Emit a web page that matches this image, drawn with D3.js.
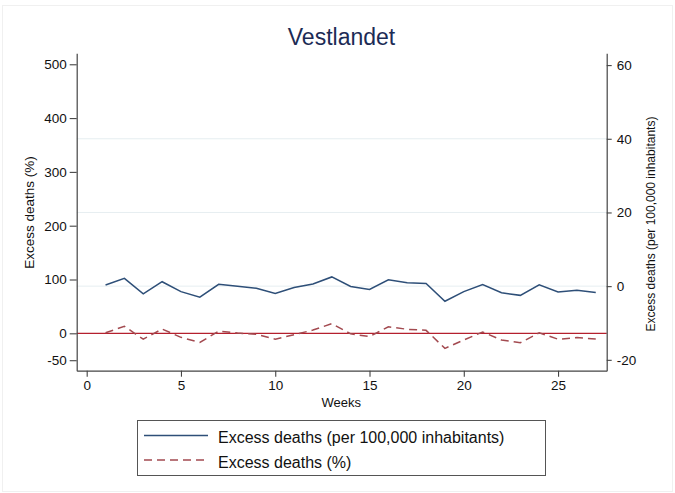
<!DOCTYPE html>
<html>
<head>
<meta charset="utf-8">
<script src="https://cdn.jsdelivr.net/npm/d3@7"></script>
<style>
  html, body { margin: 0; padding: 0; background: #fff; }
  svg text { font-family: "Liberation Sans", Arial, Helvetica, sans-serif; }
</style>
</head>
<body>
<svg id="chart" width="675" height="493"></svg>
<script>
// ---- data ----
const weeks = [1,2,3,4,5,6,7,8,9,10,11,12,13,14,15,16,17,18,19,20,21,22,23,24,25,26,27];
const per100k = [0.3,2.1,-2.1,1.2,-1.5,-3.0,0.5,0.0,-0.6,-2.0,-0.35,0.6,2.5,-0.1,-0.9,1.7,0.9,0.7,-4.1,-1.5,0.45,-1.8,-2.5,0.35,-1.6,-1.1,-1.7];
const pct = [1,13,-11,8,-7.5,-17,4,0.5,-2,-11,-2.5,6,18,-1,-6,12,7.5,5.5,-28,-12.5,2.5,-12.5,-17.5,1,-11,-8,-10.5];
const xTicks = [0,5,10,15,20,25];
const leftTicks = [-50,0,100,200,300,400,500];
const rightTicks = [-20,0,20,40,60];
const gridTicks = [0,20,40];
const titleText = "Vestlandet";
const xTitle = "Weeks";
const leftTitle = "Excess deaths (%)";
const rightTitle = "Excess deaths (per 100,000 inhabitants)";
const legendLabels = ["Excess deaths (per 100,000 inhabitants)", "Excess deaths (%)"];

// ---- layout ----
const L = 76.7, R = 606.7, T = 53.3, B = 370.7;
const svg = d3.select("#chart");

const x = d3.scaleLinear().domain([-0.53, 27.58]).range([L, R]);
const yL = d3.scaleLinear().domain([-69.5, 520.4]).range([B, T]);
const yR = d3.scaleLinear().domain([-22.95, 63.2]).range([B, T]);

const blue = "#2e4f78", maroon = "#a34a50", crimson = "#b5202e", axisCol = "#444";
const fmt = d => String(d);

// faint outer frame
svg.append("rect").attr("x", 2.5).attr("y", 5.5).attr("width", 670).attr("height", 486)
  .attr("fill", "none").attr("stroke", "#f0f0f0").attr("stroke-width", 1);

// gridlines
svg.append("g").selectAll("line").data(gridTicks).join("line")
  .attr("x1", L).attr("x2", R)
  .attr("y1", d => yR(d)).attr("y2", d => yR(d))
  .attr("stroke", "#e6eef1").attr("stroke-width", 1);

// zero line on left axis
svg.append("line").attr("x1", L).attr("x2", R)
  .attr("y1", yL(0)).attr("y2", yL(0))
  .attr("stroke", crimson).attr("stroke-width", 1.3);

// series lines
const lineB = d3.line().x((d, i) => x(weeks[i])).y(d => yR(d));
const lineR = d3.line().x((d, i) => x(weeks[i])).y(d => yL(d));
svg.append("path").datum(pct).attr("d", lineR)
  .attr("fill", "none").attr("stroke", maroon).attr("stroke-width", 1.5)
  .attr("stroke-dasharray", "8,5");
svg.append("path").datum(per100k).attr("d", lineB)
  .attr("fill", "none").attr("stroke", blue).attr("stroke-width", 1.5);

function styleAxis(g) {
  g.selectAll(".domain").attr("stroke", axisCol).attr("stroke-width", 1.2);
  g.selectAll(".tick line").attr("stroke", axisCol).attr("stroke-width", 1.1);
  g.selectAll(".tick text").attr("fill", "#111").style("font-size", "13.5px");
}

// axes
const gx = svg.append("g").attr("transform", `translate(0,${B})`)
  .call(d3.axisBottom(x).tickValues(xTicks).tickFormat(fmt).tickSize(6).tickSizeOuter(0).tickPadding(4));
styleAxis(gx);

const gl = svg.append("g").attr("transform", `translate(${L},0)`)
  .call(d3.axisLeft(yL).tickValues(leftTicks).tickFormat(fmt).tickSize(7).tickSizeOuter(0).tickPadding(3));
styleAxis(gl);

const gr = svg.append("g").attr("transform", `translate(${R},0)`)
  .call(d3.axisRight(yR).tickValues(rightTicks).tickFormat(fmt).tickSize(5).tickSizeOuter(0).tickPadding(5));
styleAxis(gr);

// titles
svg.append("text").attr("x", 341.5).attr("y", 45).attr("text-anchor", "middle")
  .attr("fill", "#1c2b55").style("font-size", "23px").text(titleText);

svg.append("text").attr("x", 341.3).attr("y", 406.5).attr("text-anchor", "middle")
  .attr("fill", "#111").style("font-size", "13px").text(xTitle);

svg.append("text").attr("transform", "translate(29,212.5) rotate(-90)")
  .attr("text-anchor", "middle").attr("dy", "0.35em")
  .attr("fill", "#111").style("font-size", "13.5px").text(leftTitle);

svg.append("text").attr("transform", "translate(651,224) rotate(-90)")
  .attr("text-anchor", "middle").attr("dy", "0.35em")
  .attr("fill", "#111").style("font-size", "12px").text(rightTitle);

// legend
const lg = svg.append("g");
lg.append("rect").attr("x", 137.5).attr("y", 420.5).attr("width", 408).attr("height", 55)
  .attr("fill", "#fff").attr("stroke", "#555").attr("stroke-width", 1);
const legendStyles = [{c: blue, dash: null, y: 435.5}, {c: maroon, dash: "8,5", y: 460}];
legendLabels.forEach((lab, i) => {
  const s = legendStyles[i];
  lg.append("line").attr("x1", 144).attr("x2", 208).attr("y1", s.y).attr("y2", s.y)
    .attr("stroke", s.c).attr("stroke-width", 1.5)
    .attr("stroke-dasharray", s.dash);
  lg.append("text").attr("x", 218).attr("y", s.y + 7.5)
    .attr("fill", "#111").style("font-size", "16px").text(lab);
});
</script>
</body>
</html>
